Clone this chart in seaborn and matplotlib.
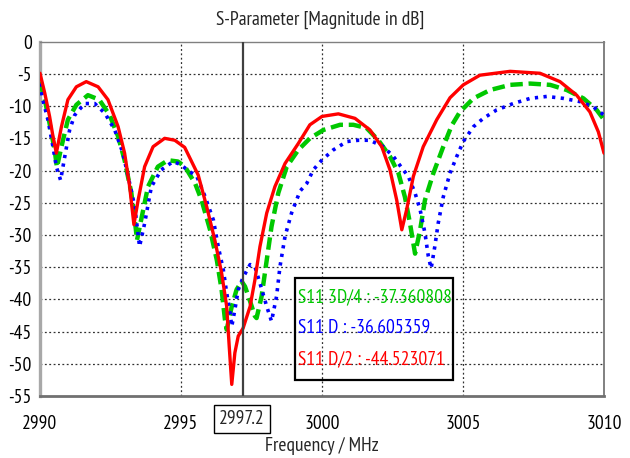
import matplotlib
matplotlib.use("Agg")
import matplotlib.pyplot as plt
import seaborn as sns
import pandas as pd
from matplotlib.patches import Rectangle
from matplotlib import font_manager as fm

# ---------------- data ----------------
red_x = [2990.0, 2990.17, 2990.34, 2990.46, 2990.58, 2990.76, 2990.99, 2991.29, 2991.64, 2992.06,
         2992.41, 2992.77, 2993.0, 2993.18, 2993.33, 2993.48, 2993.71, 2994.01, 2994.42, 2994.78,
         2995.13, 2995.61, 2995.91, 2996.2, 2996.44, 2996.62, 2996.71, 2996.8, 2996.91, 2997.03,
         2997.2, 2997.45, 2997.62, 2997.8, 2998.04, 2998.33, 2998.69, 2999.16, 2999.57, 3000.0,
         3000.58, 3001.17, 3001.7, 3002.12, 3002.41, 3002.65, 3002.83, 3003.0, 3003.24, 3003.59,
         3004.07, 3004.54, 3005.01, 3005.6, 3006.67, 3007.73, 3008.44, 3009.03, 3009.5, 3009.8, 3010.0]
red_y = [-4.9, -8.0, -11.6, -14.7, -17.3, -13.2, -9.0, -7.0, -6.2, -7.0,
         -9.0, -13.2, -17.3, -22.5, -28.4, -24.6, -19.4, -16.3, -15.0, -15.3,
         -16.4, -20.7, -25.6, -30.8, -35.9, -41.1, -47.3, -53.2, -48.3, -45.7,
         -44.5, -41.1, -37.0, -31.8, -26.6, -22.5, -18.9, -15.8, -12.9, -11.6,
         -11.2, -11.9, -13.7, -16.3, -19.9, -24.6, -29.2, -26.1, -20.9, -16.3,
         -12.1, -8.7, -6.7, -5.2, -4.6, -4.9, -6.2, -8.3, -10.9, -14.0, -17.3]

green_x = [2990.0, 2990.17, 2990.34, 2990.52, 2990.6, 2990.76, 2990.99, 2991.29, 2991.7, 2992.1,
           2992.47, 2992.77, 2993.0, 2993.24, 2993.36, 2993.44, 2993.59, 2993.83, 2994.18, 2994.54,
           2994.89, 2995.14, 2995.5, 2995.73, 2996.03, 2996.27, 2996.44, 2996.56, 2996.62, 2996.8,
           2996.97, 2997.15, 2997.27, 2997.45, 2997.62, 2997.68, 2997.86, 2998.04, 2998.21, 2998.45,
           2998.75, 2999.16, 2999.57, 3000.05, 3000.64, 3001.11, 3001.58, 3002.0, 3002.41, 3002.71,
           3002.94, 3003.12, 3003.3, 3003.48, 3003.65, 3003.95, 3004.3, 3004.6, 3004.89, 3005.37,
           3005.96, 3006.67, 3007.38, 3008.09, 3008.68, 3009.27, 3009.74, 3010.0]
green_y = [-6.2, -9.0, -12.7, -16.8, -19.5, -16.3, -12.1, -9.8, -8.3, -9.0,
           -11.4, -14.7, -18.4, -23.5, -27.6, -30.8, -27.6, -22.5, -19.4, -18.4,
           -18.6, -19.4, -22.0, -24.6, -29.2, -33.9, -38.5, -43.2, -44.7, -41.1,
           -38.5, -37.2, -38.0, -40.3, -42.6, -42.9, -39.5, -33.9, -28.7, -23.5,
           -19.4, -16.8, -15.0, -13.7, -12.9, -12.9, -13.4, -15.3, -17.8, -20.4,
           -24.1, -28.2, -32.9, -29.2, -24.6, -20.4, -16.3, -13.0, -10.9, -8.8,
           -7.5, -6.7, -6.5, -6.7, -7.5, -8.8, -10.6, -12.1]

blue_x = [2990.0, 2990.1, 2990.28, 2990.46, 2990.58, 2990.73, 2990.88, 2991.05, 2991.23, 2991.58,
          2991.94, 2992.3, 2992.65, 2992.94, 2993.18, 2993.36, 2993.53, 2993.71, 2993.95, 2994.3,
          2994.72, 2995.0, 2995.25, 2995.56, 2995.85, 2996.15, 2996.32, 2996.5, 2996.62, 2996.74,
          2996.8, 2996.91, 2997.03, 2997.2, 2997.45, 2997.62, 2997.8, 2998.04, 2998.21, 2998.39,
          2998.51, 2998.69, 2998.92, 2999.22, 2999.46, 2999.69, 2999.99, 3000.4, 3000.88, 3001.29,
          3001.7, 3002.17, 3002.53, 3002.83, 3003.06, 3003.3, 3003.48, 3003.65, 3003.77, 3003.87,
          3004.0, 3004.12, 3004.3, 3004.54, 3004.78, 3005.01, 3005.37, 3005.72, 3006.19, 3006.78,
          3007.38, 3007.97, 3008.56, 3009.15, 3009.62, 3010.0]
blue_y = [-6.5, -9.0, -12.1, -16.3, -19.4, -21.5, -17.8, -13.7, -11.4, -9.6,
          -9.6, -11.1, -13.7, -17.3, -22.0, -25.6, -31.8, -28.2, -22.5, -19.9,
          -18.6, -19.1, -20.0, -20.9, -24.0, -27.7, -31.8, -35.4, -39.0, -42.1,
          -44.2, -41.6, -38.5, -36.6, -34.6, -34.9, -37.5, -41.1, -43.4, -39.5,
          -34.9, -30.2, -26.6, -23.2, -22.0, -19.9, -18.4, -16.8, -15.5, -15.3,
          -15.3, -16.3, -17.8, -19.6, -20.9, -23.5, -26.1, -29.7, -33.3, -35.2,
          -31.8, -28.2, -24.1, -20.4, -17.8, -15.5, -13.2, -11.9, -10.6, -9.6,
          -8.8, -8.5, -8.8, -9.3, -10.1, -11.4]

x_ticks = [2990, 2995, 3000, 3005, 3010]
y_ticks = [0, -5, -10, -15, -20, -25, -30, -35, -40, -45, -50, -55]
marker_x = 2997.2
legend_labels = ["S11 3D/4 : -37.360808", "S11 D : -36.605359", "S11 D/2 : -44.523071"]
title = "S-Parameter [Magnitude in dB]"
xlabel = "Frequency / MHz"

# ---------------- style ----------------
sns.set_theme(style="white")

available = {f.name for f in fm.fontManager.ttflist}
candidates = ["Tahoma", "PT Sans Narrow", "Liberation Sans Narrow", "Arial Narrow",
              "Fira Sans Condensed", "Roboto Condensed", "Open Sans Condensed",
              "Ubuntu Condensed", "Archivo Narrow", "IBM Plex Sans Condensed",
              "Encode Sans Condensed", "Asap Condensed", "Pragati Narrow",
              "DejaVu Sans Condensed"]
chosen = next((c for c in candidates if c in available), None)
if chosen is None:
    FONT = ["DejaVu Sans"]
    FS = 11.5
else:
    FONT = [chosen, "DejaVu Sans"]
    FS = 14
plt.rcParams["font.family"] = FONT

RED = "#ff0000"
GREEN = "#00c800"
BLUE = "#0000ff"

fig = plt.figure(figsize=(6.3, 4.58), dpi=100)
ax = fig.add_axes([40 / 630, 1 - 396 / 458, 564 / 630, (396 - 41.7) / 458])

df_g = pd.DataFrame({"x": green_x, "y": green_y})
df_b = pd.DataFrame({"x": blue_x, "y": blue_y})
df_r = pd.DataFrame({"x": red_x, "y": red_y})

sns.lineplot(data=df_g, x="x", y="y", ax=ax, color=GREEN, lw=3.2,
             linestyle=(0, (2.8, 1.3)), sort=False, zorder=3)
sns.lineplot(data=df_b, x="x", y="y", ax=ax, color=BLUE, lw=2.6,
             linestyle=(0, (0.9, 1.5)), sort=False, zorder=4)
sns.lineplot(data=df_r, x="x", y="y", ax=ax, color=RED, lw=2.4,
             linestyle="-", sort=False, zorder=5)

ax.set_xlim(2990, 3010)
ax.set_ylim(-55, 0)
ax.set_xticks(x_ticks)
ax.set_yticks(y_ticks)
ax.set_xticklabels([str(t) for t in x_ticks], fontsize=FS, family=FONT)
ax.set_yticklabels([str(t) for t in y_ticks], fontsize=FS, family=FONT)
ax.tick_params(axis="both", length=0, colors="black")
ax.tick_params(axis="y", pad=6)
ax.tick_params(axis="x", pad=14)

# grid (dotted, only interior lines)
for gx in x_ticks[1:-1]:
    ax.axvline(gx, color="#303030", lw=0.9, linestyle=(0, (1.5, 2)), zorder=1)
for gy in y_ticks[1:-1]:
    ax.axhline(gy, color="#303030", lw=0.9, linestyle=(0, (1.5, 2)), zorder=1)

# marker line
ax.axvline(marker_x, color="#404040", lw=1.6, zorder=6)

# spines
ax.spines["left"].set_color("#a8a8a8")
ax.spines["left"].set_linewidth(2.4)
ax.spines["bottom"].set_color("#707070")
ax.spines["bottom"].set_linewidth(2.0)
ax.spines["top"].set_color("#808080")
ax.spines["top"].set_linewidth(1.0)
ax.spines["right"].set_color("#808080")
ax.spines["right"].set_linewidth(1.4)

ax.set_xlabel("")
ax.set_ylabel("")
fig.text(320 / 630, 1 - 20 / 458, title, ha="center", va="center", fontsize=FS, family=FONT)
fig.text(322 / 630, 1 - 446 / 458, xlabel, ha="center", va="center", fontsize=FS, family=FONT)

# boxed marker tick label
fig.text(242 / 630, 1 - 419 / 458, "2997.2", ha="center", va="center",
         fontsize=FS, family=FONT,
         bbox=dict(boxstyle="square,pad=0.25", fc="white", ec="black", lw=1.0))

# legend box
x0, x1 = (295 - 40) / 564, (453 - 40) / 564
y1, y0 = 1 - (278 - 41.7) / 354.3, 1 - (380 - 41.7) / 354.3
ax.add_patch(Rectangle((x0, y0), x1 - x0, y1 - y0, transform=ax.transAxes,
                       fill=False, ec="black", lw=1.6, zorder=7))
for lab, col, yy in zip(legend_labels, [GREEN, BLUE, RED], [297, 328, 359]):
    ax.text(x0 + 3 / 564, 1 - (yy - 41.7) / 354.3, lab, transform=ax.transAxes,
            ha="left", va="center", color=col, fontsize=FS, family=FONT, zorder=8)

fig.savefig("out.png", dpi=100)
